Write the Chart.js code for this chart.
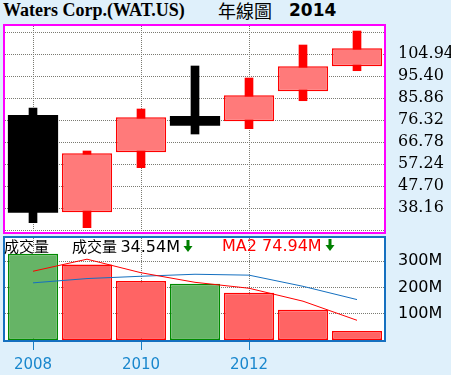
<!DOCTYPE html>
<html><head><meta charset="utf-8">
<script src="https://cdn.jsdelivr.net/npm/chart.js@4.4.1/dist/chart.umd.min.js"></script>
<style>
html,body{margin:0;padding:0;background:#dff0fb;}
#wrap{position:relative;width:451px;height:375px;overflow:hidden;background:#dff0fb;}
canvas{position:absolute;left:0;}
.t{position:absolute;white-space:nowrap;}
</style></head>
<body><div id="wrap">
<div class="t" style="left:3px;top:0px;font:bold 18px/21px 'Liberation Serif';color:#000;">Waters Corp.(WAT.US)</div>
<div class="t" style="left:218px;top:-1px;font:18px/22px 'Noto Sans CJK TC';color:#000;">年線圖</div>
<div class="t" style="left:289px;top:0px;font:bold 17px/21px 'DejaVu Sans';color:#000;">2014</div>
<canvas id="c1" width="451" height="236" style="top:0"></canvas>
<canvas id="c2" width="451" height="139" style="top:236px"></canvas>
<div class="t" style="left:4px;top:236px;font:15px/19px 'Noto Sans CJK TC';color:#000;">成交量</div>
<div class="t" style="left:72px;top:236px;font:15px/19px 'Noto Sans CJK TC';color:#000;">成交量 <span style="font:16px/19px 'DejaVu Sans'">34.54M</span><svg width="10" height="13" viewBox="0 0 10 13" style="margin-left:3px;vertical-align:-1px"><path d="M3.5 0H6.5V6H9.5L5 12L0.5 6H3.5Z" fill="#008000"/></svg></div>
<div class="t" style="left:222px;top:236px;font:16px/19px 'DejaVu Sans';color:#ff0000;">MA2 74.94M<svg width="10" height="13" viewBox="0 0 10 13" style="margin-left:3px;vertical-align:-1px"><path d="M3.5 0H6.5V6H9.5L5 12L0.5 6H3.5Z" fill="#008000"/></svg></div>
</div>
<script>
// ---- data ----
const years = ['2008','2009','2010','2011','2012','2013','2014'];
const openP  = [78.62, 36.43, 62.45, 78.19, 75.89, 88.90, 99.74];
const highP  = [81.65, 63.01, 81.22, 99.87, 94.66, 108.97, 115.04];
const lowP   = [31.92, 29.75, 55.77, 70.38, 72.68, 84.82, 97.83];
const closeP = [36.26, 62.01, 77.62, 73.98, 87.16, 99.74, 107.54];
const volume = [328, 287, 225, 214, 180, 115.34, 34.54]; // millions
const ma2    = [261.6, 307.5, 256, 219.5, 197, 147.7, 74.94];
const ma5    = [217.5, 233.8, 242.6, 250.2, 246.8, 204.3, 153.8];
const priceTicks = [28.62, 38.16, 47.70, 57.24, 66.78, 76.32, 85.86, 95.40, 104.94, 114.48];
const volTicks = [100, 200, 300];
const xTickLabels = ['2008', '2010', '2012'];

const isDown = years.map((_, i) => closeP[i] < openP[i]);
const GRID = '#7a7a72';
const CLEAR = 'rgba(0,0,0,0)';

function panelPlugin(id, color, ext) {
  return {
    id: id,
    beforeDraw(chart) {
      const a = chart.chartArea, c = chart.ctx;
      c.save(); c.fillStyle = '#fff';
      c.fillRect(a.left - ext.l, a.top - ext.t, a.right - a.left + ext.l + ext.r, a.bottom - a.top + ext.t + ext.b);
      c.restore();
    },
    beforeDatasetsDraw(chart) {
      // dotted grid (1 px on / 1 px off) placed through the library's scales
      const a = chart.chartArea, c = chart.ctx, xs = chart.scales.x, ys = chart.scales.y;
      const x0 = Math.round(a.left - ext.l) + 1, x1 = Math.round(a.right + ext.r) - 1;
      const y0 = Math.round(a.top - ext.t) + 1, y1 = Math.round(a.bottom + ext.b) - 1;
      c.save(); c.fillStyle = GRID;
      ys.ticks.forEach(t => {
        const y = Math.floor(ys.getPixelForValue(t.value));
        for (let x = x0; x < x1; x += 2) c.fillRect(x, y, 1, 1);
      });
      years.forEach((lab, i) => {
        if (!xTickLabels.includes(lab)) return;
        const x = Math.floor(xs.getPixelForValue(i));
        for (let y = y0; y < y1; y += 2) c.fillRect(x, y, 1, 1);
      });
      c.restore();
    },
    afterDraw(chart) {
      const a = chart.chartArea, c = chart.ctx;
      c.save(); c.strokeStyle = color; c.lineWidth = 2;
      c.strokeRect(a.left - ext.l, a.top - ext.t, a.right - a.left + ext.l + ext.r, a.bottom - a.top + ext.t + ext.b);
      c.restore();
    }
  };
}

new Chart(document.getElementById('c1'), {
  type: 'bar',
  data: {
    labels: years,
    datasets: [
      {
        label: 'body',
        data: years.map((_, i) => [openP[i], closeP[i]]),
        backgroundColor: isDown.map(d => d ? '#000000' : '#ff7a7a'),
        borderColor: isDown.map(d => d ? '#000000' : '#ff0000'),
        borderWidth: isDown.map(d => d ? 0 : 1.5),
        borderSkipped: false,
        grouped: false,
        categoryPercentage: 1,
        barPercentage: 0.93,
        order: 0
      },
      {
        label: 'wick',
        data: years.map((_, i) => [lowP[i], highP[i]]),
        backgroundColor: isDown.map(d => d ? '#000000' : '#ff0000'),
        borderWidth: 0,
        grouped: false,
        barThickness: 8,
        order: 1
      }
    ]
  },
  options: {
    responsive: false, animation: false, events: [],
    layout: { padding: { left: 6, top: 25, bottom: 3, right: 0 } },
    plugins: { legend: { display: false }, tooltip: { enabled: false } },
    scales: {
      x: {
        offset: true,
        grid: { display: false },
        border: { display: false },
        ticks: { display: false },
        afterFit: s => { s.height = 0; s.paddingLeft = 0; s.paddingRight = 0; }
      },
      y: {
        position: 'right', min: 27.45, max: 117.65,
        afterBuildTicks: s => { s.ticks = priceTicks.map(v => ({ value: v })); },
        ticks: {
          padding: 6, color: '#000',
          font: { family: 'DejaVu Serif', size: 16 },
          callback: (v, i) => (i === 0 || i === priceTicks.length - 1) ? '' : Number(v).toFixed(2)
        },
        grid: { display: false },
        border: { display: false },
        afterFit: s => { s.width = 67; s.paddingTop = 0; s.paddingBottom = 0; }
      }
    }
  },
  plugins: [panelPlugin('p1', '#ff00ff', { l: 2, r: 1, t: 0, b: 0 })]
});

new Chart(document.getElementById('c2'), {
  type: 'bar',
  data: {
    labels: years,
    datasets: [
      {
        type: 'line', label: 'MA2', data: ma2,
        borderColor: '#ff0000', borderWidth: 1, pointRadius: 0, tension: 0, fill: false, order: 0
      },
      {
        type: 'line', label: 'MA5', data: ma5,
        borderColor: '#1570c0', borderWidth: 1, pointRadius: 0, tension: 0, fill: false, order: 0
      },
      {
        label: 'vol', data: volume,
        backgroundColor: isDown.map(d => d ? '#66b466' : '#ff6464'),
        borderColor: isDown.map(d => d ? '#008a00' : '#ff0000'),
        borderWidth: 1.5, borderSkipped: false,
        categoryPercentage: 1, barPercentage: 0.93, order: 1
      }
    ]
  },
  options: {
    responsive: false, animation: false, events: [],
    layout: { padding: { left: 6, top: 1, bottom: 0, right: 0 } },
    plugins: { legend: { display: false }, tooltip: { enabled: false } },
    scales: {
      x: {
        offset: true,
        grid: {
          offset: false, drawOnChartArea: false, drawTicks: true, tickLength: 10, tickWidth: 1,
          color: CLEAR,
          tickColor: c => (xTickLabels.includes(years[c.index]) ? '#1a7fc4' : CLEAR)
        },
        border: { display: false },
        ticks: {
          autoSkip: false, maxRotation: 0, padding: 6, color: '#1987cd',
          font: { family: 'DejaVu Sans', size: 15 },
          callback: (v, i) => (xTickLabels.includes(years[i]) ? years[i] : '')
        },
        afterFit: s => { s.height = 35; s.paddingLeft = 0; s.paddingRight = 0; }
      },
      y: {
        position: 'right', min: 0, max: 392,
        afterBuildTicks: s => { s.ticks = volTicks.map(v => ({ value: v })); },
        ticks: {
          padding: 6, color: '#000',
          font: { family: 'DejaVu Sans', size: 16 },
          callback: v => v + 'M'
        },
        grid: { display: false },
        border: { display: false },
        afterFit: s => { s.width = 67; s.paddingTop = 0; s.paddingBottom = 0; }
      }
    }
  },
  plugins: [panelPlugin('p2', '#1570c0', { l: 2, r: 1, t: 0, b: 1 })]
});
</script>
</body></html>
